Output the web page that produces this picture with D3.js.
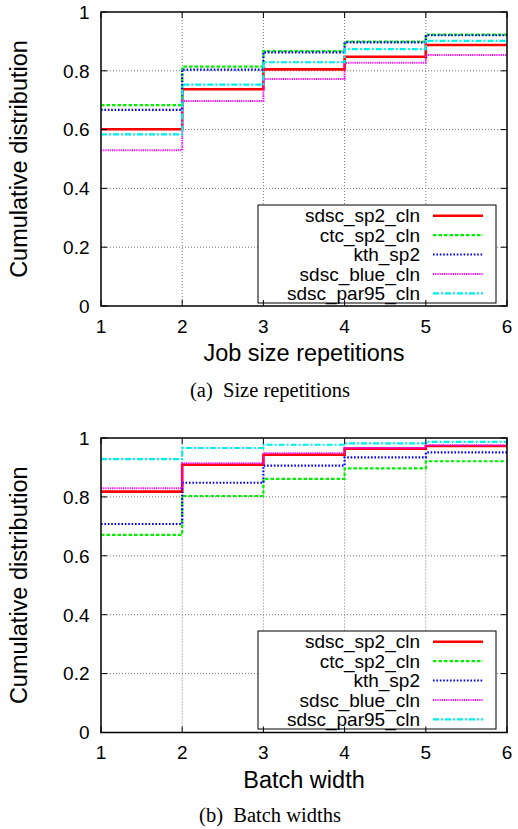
<!DOCTYPE html>
<html>
<head>
<meta charset="utf-8">
<script src="https://cdn.jsdelivr.net/npm/d3@7"></script>
<style>
  html, body { margin: 0; padding: 0; background: #fff; }
  svg { display: block; }
  text { font-family: "Liberation Sans", Arial, sans-serif; fill: #000; }
  .caption { font-family: "Liberation Serif", "Times New Roman", serif; white-space: pre; }
</style>
</head>
<body>
<svg id="chart" width="518" height="829"></svg>
<script>
// ---- data ----
const xTicks = [1, 2, 3, 4, 5, 6];
const yTicks = [0, 0.2, 0.4, 0.6, 0.8, 1];
const yTickLabels = ["0", "0.2", "0.4", "0.6", "0.8", "1"];
const seriesNames = ["sdsc_sp2_cln", "ctc_sp2_cln", "kth_sp2", "sdsc_blue_cln", "sdsc_par95_cln"];

// (a) Size repetitions: CDF value at x = 1..5 (step held until 6)
const sizeSdscSp2  = [0.601, 0.737, 0.805, 0.848, 0.888];
const sizeCtcSp2   = [0.683, 0.814, 0.867, 0.899, 0.923];
const sizeKthSp2   = [0.667, 0.804, 0.863, 0.897, 0.921];
const sizeSdscBlue = [0.530, 0.697, 0.772, 0.827, 0.854];
const sizeSdscPar95= [0.584, 0.753, 0.829, 0.874, 0.902];

// (b) Batch widths
const batchSdscSp2  = [0.818, 0.909, 0.943, 0.964, 0.973];
const batchCtcSp2   = [0.671, 0.803, 0.861, 0.897, 0.921];
const batchKthSp2   = [0.708, 0.848, 0.906, 0.934, 0.951];
const batchSdscBlue = [0.829, 0.914, 0.948, 0.966, 0.975];
const batchSdscPar95= [0.928, 0.966, 0.977, 0.982, 0.987];

// ---- styles ----
const seriesStyles = [
  { color: "#ff0000", width: 2.6, dash: null },
  { color: "#00ee00", width: 2.2, dash: "3.5,2" },
  { color: "#0000ff", width: 2.2, dash: "1.6,1.8" },
  { color: "#ff00ff", width: 2.0, dash: "1.2,1" },
  { color: "#00eeee", width: 2.2, dash: "6,2,2,2" }
];

const svg = d3.select("#chart");

function drawChart(cfg) {
  const x = d3.scaleLinear().domain([1, 6]).range([101, 507]);
  const y = d3.scaleLinear().domain([0, 1]).range([cfg.bottom, cfg.top]);
  const g = svg.append("g");

  // grid (dotted grey)
  g.selectAll(".gx").data(xTicks.slice(1, -1)).enter().append("line")
    .attr("x1", d => x(d)).attr("x2", d => x(d))
    .attr("y1", y(0)).attr("y2", y(1))
    .attr("stroke", "#777").attr("stroke-width", 1).attr("stroke-dasharray", "1,2");
  g.selectAll(".gy").data(yTicks.slice(1, -1)).enter().append("line")
    .attr("x1", x(1)).attr("x2", x(6))
    .attr("y1", d => y(d)).attr("y2", d => y(d))
    .attr("stroke", "#777").attr("stroke-width", 1).attr("stroke-dasharray", "1,2");

  // series
  const line = d3.line().x(d => x(d[0])).y(d => y(d[1])).curve(d3.curveStepAfter);
  cfg.series.forEach((vals, i) => {
    const pts = vals.map((v, k) => [xTicks[k], v]);
    pts.push([xTicks[xTicks.length - 1], vals[vals.length - 1]]);
    const st = seriesStyles[i];
    g.append("path").datum(pts).attr("d", line)
      .attr("fill", "none").attr("stroke", st.color).attr("stroke-width", st.width)
      .attr("stroke-dasharray", st.dash);
  });

  // legend
  const lg = g.append("g");
  const lx0 = 258, lx1 = 496, ly0 = cfg.top + 193, lh = 98;
  lg.append("rect").attr("x", lx0).attr("y", ly0).attr("width", lx1 - lx0).attr("height", lh)
    .attr("fill", "#fff").attr("stroke", "#000").attr("stroke-width", 1);
  seriesNames.forEach((name, i) => {
    const cy = ly0 + 10.7 + i * 19.4;
    const st = seriesStyles[i];
    lg.append("text").attr("x", 420).attr("y", cy).attr("dy", "0.35em")
      .attr("text-anchor", "end").style("font-size", "19px").text(name);
    lg.append("line").attr("x1", 433).attr("x2", 483).attr("y1", cy).attr("y2", cy)
      .attr("stroke", st.color).attr("stroke-width", st.width).attr("stroke-dasharray", st.dash);
  });

  // border
  g.append("rect").attr("x", x(1)).attr("y", y(1)).attr("width", x(6) - x(1)).attr("height", y(0) - y(1))
    .attr("fill", "none").attr("stroke", "#000").attr("stroke-width", 1.5);

  // ticks (inward, on both sides)
  g.selectAll(".tyl").data(yTicks).enter().append("line")
    .attr("x1", x(1)).attr("x2", x(1) + 6).attr("y1", d => y(d)).attr("y2", d => y(d))
    .attr("stroke", "#000").attr("stroke-width", 1);
  g.selectAll(".tyr").data(yTicks).enter().append("line")
    .attr("x1", x(6)).attr("x2", x(6) - 6).attr("y1", d => y(d)).attr("y2", d => y(d))
    .attr("stroke", "#000").attr("stroke-width", 1);
  g.selectAll(".txb").data(xTicks).enter().append("line")
    .attr("x1", d => x(d)).attr("x2", d => x(d)).attr("y1", y(0)).attr("y2", y(0) - 6)
    .attr("stroke", "#000").attr("stroke-width", 1);
  g.selectAll(".txt").data(xTicks).enter().append("line")
    .attr("x1", d => x(d)).attr("x2", d => x(d)).attr("y1", y(1)).attr("y2", y(1) + 6)
    .attr("stroke", "#000").attr("stroke-width", 1);

  // tick labels
  g.selectAll(".yl").data(yTicks).enter().append("text")
    .attr("x", 89.5).attr("y", d => y(d)).attr("dy", "0.36em")
    .attr("text-anchor", "end").style("font-size", "19px")
    .text((d, i) => yTickLabels[i]);
  g.selectAll(".xl").data(xTicks).enter().append("text")
    .attr("x", d => x(d)).attr("y", y(0) + 26.5)
    .attr("text-anchor", "middle").style("font-size", "19px")
    .text(d => d);

  // axis titles
  g.append("text").attr("x", (x(1) + x(6)) / 2).attr("y", y(0) + 55.2)
    .attr("text-anchor", "middle").style("font-size", "23.5px").text(cfg.xTitle);
  g.append("text")
    .attr("transform", `translate(27,${(y(0) + y(1)) / 2}) rotate(-90)`)
    .attr("text-anchor", "middle").style("font-size", "23.5px").text("Cumulative distribution");

  // caption
  g.append("text").attr("class", "caption").attr("x", 270).attr("y", y(0) + cfg.capOff)
    .attr("text-anchor", "middle").style("font-size", "20.5px").text(cfg.caption);
}

drawChart({
  top: 12, bottom: 306,
  series: [sizeSdscSp2, sizeCtcSp2, sizeKthSp2, sizeSdscBlue, sizeSdscPar95],
  xTitle: "Job size repetitions",
  caption: "(a)  Size repetitions",
  capOff: 90.7
});
drawChart({
  top: 438, bottom: 732.5,
  series: [batchSdscSp2, batchCtcSp2, batchKthSp2, batchSdscBlue, batchSdscPar95],
  xTitle: "Batch width",
  caption: "(b)  Batch widths",
  capOff: 89.2
});
</script>
</body>
</html>
